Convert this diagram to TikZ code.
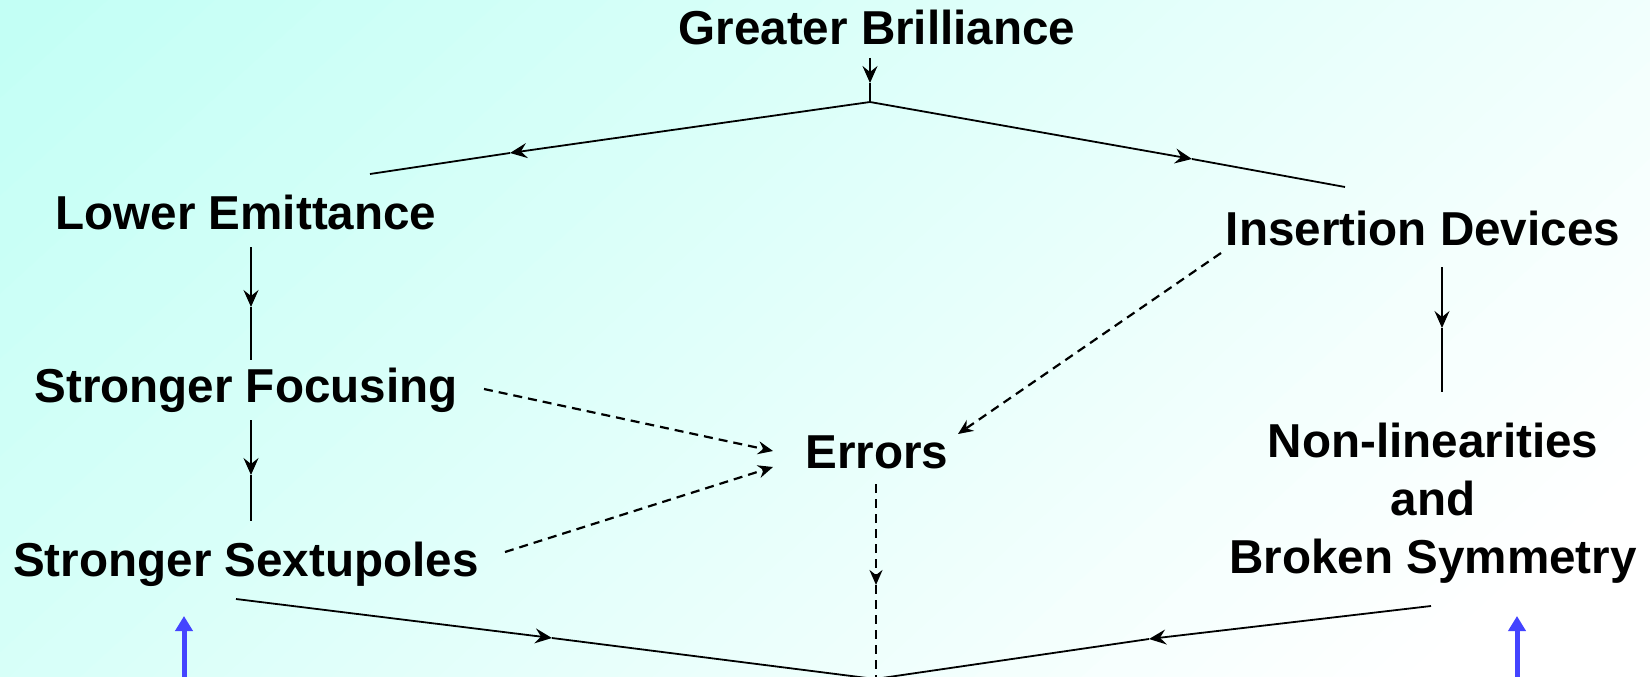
\documentclass[tikz,border=0pt]{standalone}
\usepackage{fontspec}
\setmainfont{Liberation Sans}
\usetikzlibrary{arrows.meta}
\definecolor{bgA}{HTML}{C2FFF5}
\definecolor{arrblue}{HTML}{4444FF}
\tikzset{
 lbl/.style={font=\fontsize{47.6}{58}\selectfont\bfseries, inner sep=0pt, text=black},
 ln/.style={line width=1.8pt, black},
 arr/.style={ln, -{Stealth[length=17pt,width=15pt,inset=6pt]}},
 dsh/.style={line width=2.2pt, black, dash pattern=on 9pt off 6pt},
 darr/.style={dsh, -{Stealth[length=15pt,width=13pt,inset=5pt]}},
 barr/.style={line width=5pt, arrblue, -{Triangle[length=15pt,width=17pt]}}
}
\begin{document}
\begin{tikzpicture}[x=1pt,y=-1pt]
\useasboundingbox (0,0) rectangle (1650,677);
% background gradient (cyan at top left, fading to white towards the right)
\begin{scope}
\clip (0,0) rectangle (1650,677);
\fill[white] (0,0) rectangle (1650,677);
\foreach \k in {60,59,...,1} {
  \pgfmathsetmacro\tv{1.3*\k/60}
  \pgfmathtruncatemacro\pv{round(100*(1-(\k-0.5)/60))}
  \fill[bgA!\pv!white] (0,0) -- ({\tv*1650},0) -- (0,{\tv*677/0.45}) -- cycle;
}
\end{scope}

% labels
\node[lbl, anchor=base] (gb) at (877,45) {Greater Brilliance};
\node[lbl, anchor=base] (le) at (246,229) {Lower Emittance};
\node[lbl, anchor=base] (sf) at (246,402) {Stronger Focusing};
\node[lbl, anchor=base] (ss) at (246,576) {Stronger Sextupoles};
\node[lbl, anchor=base] (er) at (877,468) {Errors};
\node[lbl, anchor=base] (id) at (1423,245) {Insertion Devices};
\node[lbl, align=center, anchor=center] (nl) at (1433,503) {Non-linearities\\and\\Broken Symmetry};

% coordinates
\coordinate (gbA) at (870,58);
\coordinate (gbT) at (870,83);
\coordinate (apx) at (870,102);
\coordinate (lT) at (510,153);
\coordinate (lE) at (370,174);
\coordinate (rT) at (1192,159);
\coordinate (rE) at (1345,187);
\coordinate (leA) at (251,247);
\coordinate (leT) at (251,307);
\coordinate (leB) at (251,360);
\coordinate (sfA) at (251,420);
\coordinate (sfT) at (251,475);
\coordinate (sfB) at (251,521);
\coordinate (idA) at (1442,267);
\coordinate (idT) at (1442,328);
\coordinate (idB) at (1442,392);
\coordinate (ssA) at (236,599);
\coordinate (ssT) at (552,638);
\coordinate (bot) at (875,679);
\coordinate (nlA) at (1431,606);
\coordinate (nlT) at (1149,639);
\coordinate (erA) at (876,484);
\coordinate (erT) at (876,585);
\coordinate (erB) at (876,679);
\coordinate (sfD) at (484,389);
\coordinate (erL1) at (773,451);
\coordinate (ssD) at (505,552);
\coordinate (erL2) at (773,467);
\coordinate (idD) at (1221,253);
\coordinate (erR) at (958,434);
\coordinate (b1A) at (184,690);
\coordinate (b1T) at (184,616);
\coordinate (b2A) at (1517,690);
\coordinate (b2T) at (1517,616);

% solid connectors with mid arrows
\draw[arr] (gbA) -- (gbT); \draw[ln] (gbT) -- (apx);
\draw[arr] (apx) -- (lT); \draw[ln] (lT) -- (lE);
\draw[arr] (apx) -- (rT); \draw[ln] (rT) -- (rE);
\draw[arr] (leA) -- (leT); \draw[ln] (leT) -- (leB);
\draw[arr] (sfA) -- (sfT); \draw[ln] (sfT) -- (sfB);
\draw[arr] (idA) -- (idT); \draw[ln] (idT) -- (idB);
\draw[arr] (ssA) -- (ssT); \draw[ln] (ssT) -- (bot);
\draw[arr] (nlA) -- (nlT); \draw[ln] (nlT) -- (bot);

% dashed connectors
\draw[darr] (erA) -- (erT); \draw[dsh] (erT) -- (erB);
\draw[darr] (sfD) -- (erL1);
\draw[darr] (ssD) -- (erL2);
\draw[darr] (idD) -- (erR);

% blue arrows
\draw[barr] (b1A) -- (b1T);
\draw[barr] (b2A) -- (b2T);
\end{tikzpicture}
\end{document}
